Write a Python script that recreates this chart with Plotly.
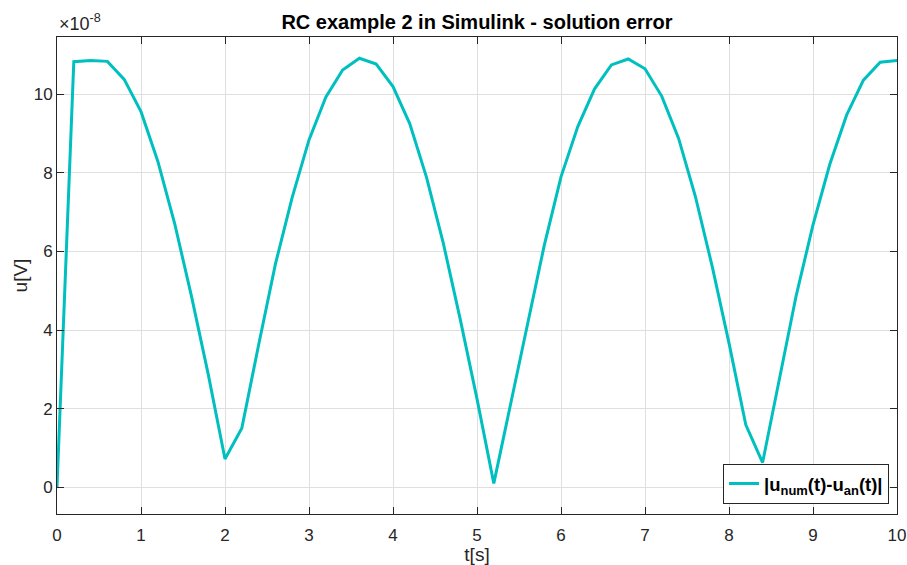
import plotly.graph_objects as go

# time samples [s]
t = [round(0.2 * i, 1) for i in range(51)]
# |u_num(t) - u_an(t)| in units of 1e-8 V
err = [0.0, 10.83, 10.86, 10.84, 10.38, 9.56, 8.30, 6.72, 4.87, 2.88,
       0.72, 1.50, 3.62, 5.68, 7.38, 8.84, 9.93, 10.62, 10.92, 10.77,
       10.20, 9.25, 7.88, 6.20, 4.28, 2.25, 0.10, 2.12, 4.22, 6.15,
       7.90, 9.18, 10.14, 10.75, 10.90, 10.65, 9.95, 8.88, 7.40, 5.62,
       3.67, 1.59, 0.63, 2.80, 4.88, 6.68, 8.22, 9.47, 10.36, 10.82,
       10.86]

xticks = [0, 1, 2, 3, 4, 5, 6, 7, 8, 9, 10]
yticks = [0, 2, 4, 6, 8, 10]

FONT = "Liberation Sans, Arial, Helvetica, sans-serif"
AX = "#262626"
GRID = "#dfdfdf"

fig = go.Figure()
fig.add_trace(go.Scatter(
    x=t, y=err, mode="lines",
    line=dict(color="#00BFBF", width=3),
    name="<b>|u<sub>num</sub>(t)-u<sub>an</sub>(t)|</b>",
))

fig.update_layout(
    width=907, height=565,
    margin=dict(l=57, r=10, t=37, b=51, autoexpand=False),
    paper_bgcolor="white", plot_bgcolor="white",
    font=dict(family=FONT, color=AX, size=17),
    title=dict(text="<b>RC example 2 in Simulink - solution error</b>",
               x=0.5, xref="paper", xanchor="center",
               y=1 - 22 / 565, yanchor="middle",
               font=dict(size=20, color="black")),
    showlegend=True,
    legend=dict(x=0.9905, y=0.021, xanchor="right", yanchor="bottom",
                bgcolor="white", bordercolor=AX, borderwidth=1,
                font=dict(size=18.5, color="black"),
                tracegroupgap=0, itemwidth=30),
    xaxis=dict(range=[0, 10], tickvals=xticks, ticks="inside", ticklen=7,
               tickcolor=AX, showline=True, linecolor=AX, linewidth=1,
               mirror="ticks", showgrid=True, gridcolor=GRID, zeroline=False,
               automargin=False, ticklabelstandoff=6,
               tickfont=dict(size=17, color=AX),
               title=dict(text="t[s]", standoff=5, font=dict(size=19, color=AX))),
    yaxis=dict(range=[-0.68, 11.46], tickvals=yticks, ticks="inside", ticklen=7,
               tickcolor=AX, showline=True, linecolor=AX, linewidth=1,
               mirror="ticks", showgrid=True, gridcolor=GRID, zeroline=False,
               automargin=False,
               tickfont=dict(size=17, color=AX),
               title=dict(text="u[V]", standoff=1, font=dict(size=19, color=AX))),
)

fig.add_annotation(text="×10<sup>-8</sup>", xref="paper", yref="paper",
                   x=0, y=1, xanchor="left", yanchor="bottom", yshift=1,
                   showarrow=False, font=dict(size=18, color=AX))

fig.write_html("out.html")
